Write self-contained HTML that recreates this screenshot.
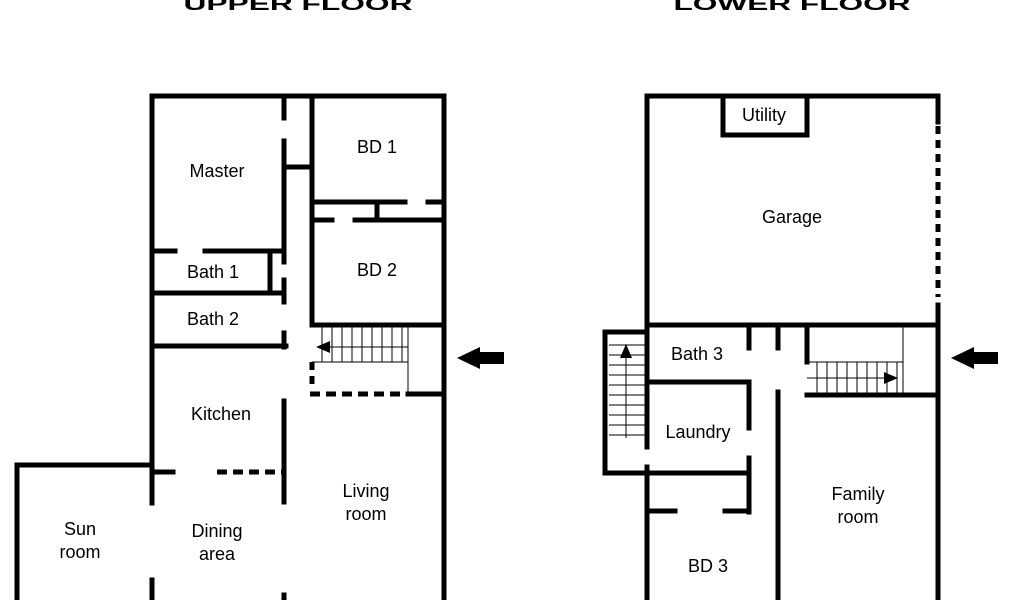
<!DOCTYPE html>
<html><head><meta charset="utf-8"><style>
html,body{margin:0;padding:0;background:#fff;}
svg{display:block;}
text{font-family:"Liberation Sans",Arial,sans-serif;font-size:18px;fill:#000;text-anchor:middle;}
</style></head><body>
<svg width="1024" height="600" viewBox="0 0 1024 600" xmlns="http://www.w3.org/2000/svg">
<g stroke="#000" stroke-width="5" fill="none" stroke-linecap="square">
<!-- UPPER -->
<path d="M152 96H444V600"/>
<path d="M152 96V503M152 580V600"/>
<path d="M284 96V118M284 141V262M284 280V302M284 333V347M284 401V502M284 595V600"/>
<path d="M284 167H312"/>
<path d="M312 96V325H444"/>
<path d="M312 202H405M428 202H444M377 202V220M312 220H332M355 220H444"/>
<path d="M152 251H175M205 251H284M270 251V292M152 293H284M152 346H286"/>
<path d="M152 472H173"/>
<path d="M217 472H284" stroke-dasharray="10 6" stroke-linecap="butt"/>
<path d="M17 600V465H152"/>
<path d="M312 362V390" stroke-dasharray="8 6" stroke-linecap="butt"/>
<path d="M310 394H408" stroke-dasharray="10 6" stroke-linecap="butt"/>
<path d="M408 394H444"/>
<!-- LOWER -->
<path d="M647 96H938V122M938 305V600"/>
<path d="M938 126V297" stroke-dasharray="8 6" stroke-linecap="butt"/>
<path d="M647 96V447M647 467V600"/>
<path d="M723 96V135H807V96"/>
<path d="M647 325H938"/>
<path d="M749 325V348M778 325V348M807 325V362"/>
<path d="M807 395H938"/>
<path d="M647 382H749V428M749 458V512"/>
<path d="M778 392V600"/>
<path d="M647 332H605V473H749"/>
<path d="M647 511H675M725 511H749"/>
</g>
<g stroke="#000" stroke-width="1" fill="none">
<!-- upper stairs -->
<path d="M312 362H408M408 325V394"/>
<path d="M322 325V362M332 325V362M342 325V362M352 325V362M362 325V362M372 325V362M382 325V362M392 325V362M402 325V362"/>
<path d="M408 347H325"/>
<!-- lower stairs -->
<path d="M807 362H903M903 325V395"/>
<path d="M817 362V395M827 362V395M837 362V395M847 362V395M857 362V395M867 362V395M877 362V395M887 362V395M897 362V395"/>
<path d="M807 378H885"/>
<path d="M609 345H645M609 355H645M609 365H645M609 375H645M609 385H645M609 395H645M609 405H645M609 415H645M609 425H645M609 435H645"/>
<path d="M626 438V355"/>
</g>
<g fill="#000">
<polygon points="316,347 330,341 330,353"/>
<polygon points="898,378 884,372 884,384"/>
<polygon points="626,344 620,358 632,358"/>
<polygon points="457,358 480,347 480,352 504,352 504,364 480,364 480,369"/>
<polygon points="951,358 974,347 974,352 998,352 998,364 974,364 974,369"/>
</g>
<text x="298" y="10" font-weight="bold" font-size="28" textLength="229" lengthAdjust="spacingAndGlyphs">UPPER FLOOR</text>
<text x="792" y="10" font-weight="bold" font-size="28" textLength="237" lengthAdjust="spacingAndGlyphs">LOWER FLOOR</text>
<text x="217" y="177">Master</text>
<text x="377" y="153">BD 1</text>
<text x="213" y="278">Bath 1</text>
<text x="377" y="276">BD 2</text>
<text x="213" y="325">Bath 2</text>
<text x="221" y="420">Kitchen</text>
<text x="366" y="497">Living</text>
<text x="366" y="520">room</text>
<text x="80" y="535">Sun</text>
<text x="80" y="558">room</text>
<text x="217" y="537">Dining</text>
<text x="217" y="560">area</text>
<text x="764" y="121">Utility</text>
<text x="792" y="223">Garage</text>
<text x="697" y="360">Bath 3</text>
<text x="698" y="438">Laundry</text>
<text x="858" y="500">Family</text>
<text x="858" y="523">room</text>
<text x="708" y="572">BD 3</text>
</svg>
</body></html>
